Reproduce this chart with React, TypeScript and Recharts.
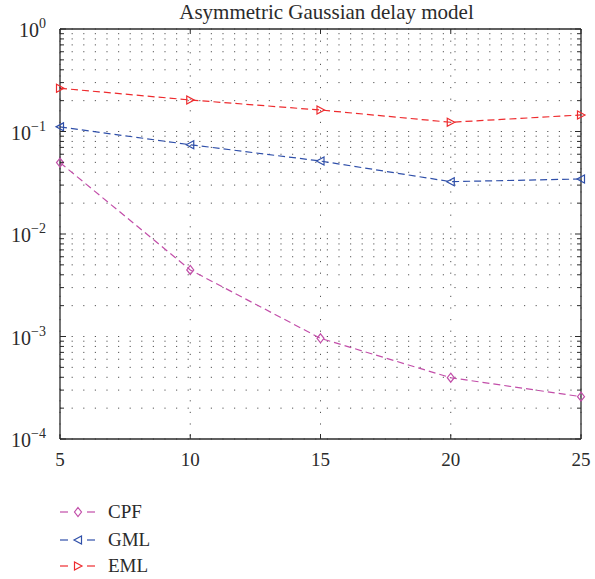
import React from 'react';
import { LineChart, Line, XAxis, YAxis, CartesianGrid } from 'recharts';

// SNR (x axis) and error values
const snr = [5, 10, 15, 20, 25];
const cpf = [0.0497, 0.00446, 0.00096, 0.000396, 0.000259];
const gml = [0.111, 0.0743, 0.0515, 0.0324, 0.0344];
const eml = [0.264, 0.203, 0.162, 0.123, 0.145];

const xTicks = [5, 10, 15, 20, 25];
const decades = [1e-4, 1e-3, 1e-2, 1e-1, 1];
const decadeExp = ['−4', '−3', '−2', '−1', '0'];

const yTicks: number[] = [];
decades.slice(0, 4).forEach((d) => {
  for (let m = 1; m < 10; m++) yTicks.push(+(d * m).toPrecision(3));
});
yTicks.push(1);

const series = [
  { key: 'CPF', values: cpf, color: '#c24ea9', marker: 'diamond' },
  { key: 'GML', values: gml, color: '#2f4fa9', marker: 'left' },
  { key: 'EML', values: eml, color: '#ee2b2e', marker: 'right' },
];

const data = snr.map((x, i) => ({ x, CPF: cpf[i], GML: gml[i], EML: eml[i] }));

const FONT = '"Liberation Serif", "Times New Roman", serif';
const INK = '#2b2b2b';

function decadeIndex(v: number) {
  return decades.findIndex((d) => Math.abs(Math.log10(d) - Math.log10(v)) < 1e-9);
}

function Marker({ cx, cy, type, color }: { cx: number; cy: number; type: string; color: string }) {
  if (cx == null || cy == null) return null;
  let pts = '';
  if (type === 'diamond') pts = `${cx},${cy - 4.5} ${cx + 3.5},${cy} ${cx},${cy + 4.5} ${cx - 3.5},${cy}`;
  else if (type === 'left') pts = `${cx - 4},${cy} ${cx + 3.5},${cy - 4} ${cx + 3.5},${cy + 4}`;
  else pts = `${cx + 4},${cy} ${cx - 3.5},${cy - 4} ${cx - 3.5},${cy + 4}`;
  return <polygon points={pts} fill="none" stroke={color} strokeWidth={1.2} />;
}

const LeftTick = (props: any) => {
  const { x, y, payload } = props;
  const di = decadeIndex(payload.value);
  const major = di >= 0;
  return (
    <g>
      <line x1={x} x2={x + (major ? 6 : 4)} y1={y} y2={y} stroke={INK} strokeWidth={1} />
      {major && (
        <text x={x - 14} y={y + 8} textAnchor="end" fontFamily={FONT} fontSize={20} fill={INK}>
          10
          <tspan dy={-9} fontSize={14}>
            {decadeExp[di]}
          </tspan>
        </text>
      )}
    </g>
  );
};

const RightTick = (props: any) => {
  const { x, y, payload } = props;
  const major = decadeIndex(payload.value) >= 0;
  return <line x1={x} x2={x - (major ? 6 : 4)} y1={y} y2={y} stroke={INK} strokeWidth={1} />;
};

const BottomTick = (props: any) => {
  const { x, y, payload } = props;
  return (
    <g>
      <line x1={x} x2={x} y1={y} y2={y - 5} stroke={INK} strokeWidth={1} />
      <text x={x} y={y + 27} textAnchor="middle" fontFamily={FONT} fontSize={19} fill={INK}>
        {payload.value}
      </text>
    </g>
  );
};

const TopTick = (props: any) => {
  const { x, y } = props;
  return <line x1={x} x2={x} y1={y} y2={y + 5} stroke={INK} strokeWidth={1} />;
};

const legendRows = [512, 540, 566];

export default function App() {
  return (
    <div style={{ position: 'absolute', left: 0, top: 0, width: 595, height: 579, background: '#fff' }}>
      <div
        style={{
          position: 'absolute',
          left: 0,
          width: 653,
          top: -1,
          textAlign: 'center',
          fontFamily: FONT,
          fontSize: 21,
          color: INK,
          lineHeight: '26px',
        }}
      >
        Asymmetric Gaussian delay model
      </div>
      <LineChart width={595} height={579} data={data} margin={{ top: 28, right: 13, bottom: 110, left: 0 }}>
        <CartesianGrid stroke="#555" strokeWidth={1} strokeDasharray="1.2 10.4" />
        <XAxis
          dataKey="x"
          type="number"
          domain={[5, 25]}
          ticks={xTicks}
          interval={0}
          height={30}
          tickSize={0}
          tickMargin={0}
          tickLine={false}
          tick={<BottomTick />}
          axisLine={{ stroke: INK, strokeWidth: 1.3 }}
        />
        <XAxis
          xAxisId="top"
          orientation="top"
          dataKey="x"
          type="number"
          domain={[5, 25]}
          ticks={xTicks}
          interval={0}
          height={1}
          tickSize={0}
          tickMargin={0}
          tickLine={false}
          tick={<TopTick />}
          axisLine={{ stroke: INK, strokeWidth: 1.3 }}
        />
        <YAxis
          type="number"
          scale="log"
          domain={[1e-4, 1]}
          ticks={yTicks}
          interval={0}
          width={60}
          tickSize={0}
          tickMargin={0}
          tickLine={false}
          tick={<LeftTick />}
          axisLine={{ stroke: INK, strokeWidth: 1.3 }}
          allowDataOverflow
        />
        <YAxis
          yAxisId="r"
          orientation="right"
          type="number"
          scale="log"
          domain={[1e-4, 1]}
          ticks={yTicks}
          interval={0}
          width={1}
          tickSize={0}
          tickMargin={0}
          tickLine={false}
          tick={<RightTick />}
          axisLine={{ stroke: INK, strokeWidth: 1.3 }}
          allowDataOverflow
        />
        {series.map((s) => (
          <Line
            key={s.key}
            dataKey={s.key}
            stroke={s.color}
            strokeWidth={1.2}
            strokeDasharray="7 4"
            isAnimationActive={false}
            dot={(p: any) => <Marker key={`${s.key}-${p.index}`} cx={p.cx} cy={p.cy} type={s.marker} color={s.color} />}
          />
        ))}
      </LineChart>
      <svg style={{ position: 'absolute', left: 0, top: 490 }} width={200} height={89}>
        {series.map((s, i) => {
          const cy = legendRows[i] - 490;
          return (
            <g key={s.key}>
              <line x1={60} x2={68} y1={cy} y2={cy} stroke={s.color} strokeWidth={1.2} />
              <line x1={87} x2={95} y1={cy} y2={cy} stroke={s.color} strokeWidth={1.2} />
              <Marker cx={78} cy={cy} type={s.marker} color={s.color} />
              <text x={108} y={cy + 6} fontFamily={FONT} fontSize={19} fill={INK}>
                {s.key}
              </text>
            </g>
          );
        })}
      </svg>
    </div>
  );
}
